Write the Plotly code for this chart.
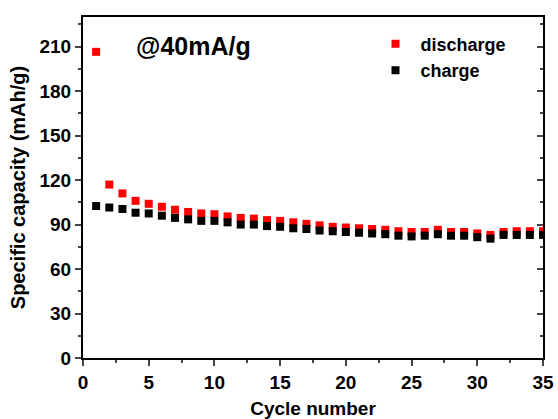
import plotly.graph_objects as go

cycles = list(range(1, 36))
discharge = [206.5, 117, 111, 106, 104, 102, 100, 98.5, 97.5, 97, 95.5, 94.5, 94, 93, 92.5,
             91.5, 90.5, 89.5, 88.5, 88, 87.5, 87, 86.5, 85.5, 85, 85, 86.5, 85, 85, 84,
             83, 85, 85.5, 85.5, 85.5]
charge = [102.5, 101.5, 100.5, 98, 97.5, 96, 94.5, 93.5, 92.5, 92.5, 91.5, 90, 90, 89, 88.5,
          87.5, 87, 86, 85.5, 85, 84.5, 84, 83.5, 82.5, 82, 82.5, 83.5, 82.5, 82.5, 81.5,
          80.5, 83, 83, 83, 83]
x_ticks = [0, 5, 10, 15, 20, 25, 30, 35]
y_ticks = [0, 30, 60, 90, 120, 150, 180, 210]

FONT = "Liberation Sans, Arial, sans-serif"

fig = go.Figure()
fig.add_trace(go.Scatter(x=cycles, y=discharge, mode="markers", name="discharge",
                         marker=dict(symbol="square", size=8, color="#ff0000", line=dict(width=0))))
fig.add_trace(go.Scatter(x=cycles, y=charge, mode="markers", name="charge",
                         marker=dict(symbol="square", size=8, color="#000000", line=dict(width=0))))
# helper trace for the right-hand axis with inward ticks
fig.add_trace(go.Scatter(x=[], y=[], yaxis="y2", showlegend=False, hoverinfo="skip"))

fig.update_layout(
    width=558, height=419,
    margin=dict(l=83, r=15, t=17, b=61, autoexpand=False),
    paper_bgcolor="white", plot_bgcolor="white",
    font=dict(family=FONT, color="black", size=18),
    showlegend=True,
    legend=dict(x=0.625, y=0.975, xanchor="left", yanchor="top",
                bgcolor="rgba(0,0,0,0)", itemwidth=40,
                font=dict(family=FONT, size=18, color="black", weight="bold")),
    xaxis=dict(range=[0, 35], tickvals=x_ticks, ticks="outside", ticklen=6, tickwidth=2,
               showline=True, linewidth=2, linecolor="black", mirror=True,
               showgrid=False, zeroline=False, automargin=False,
               minor=dict(dtick=2.5, tick0=0, ticks="outside", ticklen=3, tickwidth=2, showgrid=False),
               tickfont=dict(family=FONT, size=19, color="black", weight="bold"),
               title=dict(text="Cycle number", standoff=11,
                          font=dict(family=FONT, size=19, color="black", weight="bold"))),
    yaxis=dict(range=[0, 230], tickvals=y_ticks, ticks="outside", ticklen=6, tickwidth=2,
               showline=True, linewidth=2, linecolor="black", mirror=True,
               showgrid=False, zeroline=False, automargin=False,
               minor=dict(dtick=15, tick0=0, ticks="outside", ticklen=3, tickwidth=2, showgrid=False),
               tickfont=dict(family=FONT, size=19, color="black", weight="bold"),
               title=dict(text="Specific capacity (mAh/g)", standoff=8,
                          font=dict(family=FONT, size=20, color="black", weight="bold"))),
    yaxis2=dict(range=[0, 230], tickvals=y_ticks, overlaying="y", side="right",
                ticks="inside", ticklen=6, tickwidth=2, showticklabels=False,
                showline=False, showgrid=False, zeroline=False, automargin=False,
                minor=dict(dtick=15, tick0=0, ticks="inside", ticklen=3, tickwidth=2, showgrid=False)),
    annotations=[dict(text="@40mA/g", x=0.11, y=0.915, xref="paper", yref="paper",
                      xanchor="left", yanchor="middle", showarrow=False,
                      font=dict(family=FONT, size=25, color="black", weight="bold"))],
)

fig.write_html("out.html")
